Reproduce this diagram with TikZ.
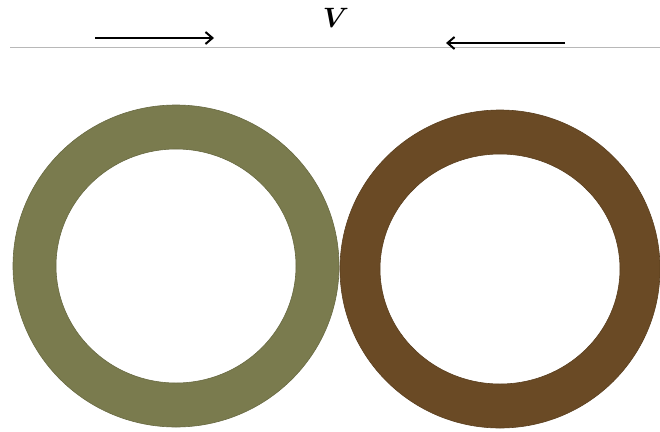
\documentclass[tikz,border=0pt]{standalone}
\usepackage{amsmath,amssymb}
\usepackage{tikz}
\usetikzlibrary{arrows.meta,positioning,calc}
\usepackage{xcolor}
\definecolor{RingOlive}{HTML}{7A7B4E}
\definecolor{RingBrown}{HTML}{6A4A25}
\definecolor{FloorGray}{HTML}{B8B8B8}

\begin{document}
\begin{tikzpicture}[x=1pt, y=-1pt,
    ring/.style={even odd rule, draw=#1!85!black, line width=0.6pt, fill=#1},
    vel/.style={-{Straight Barb[length=7pt, width=12pt]}, line width=2pt, draw=black},
    surface/.style={draw=FloorGray, line width=1pt},
    lbl/.style={inner sep=0pt}
  ]
    \useasboundingbox (0,0) rectangle (660,431);

    \coordinate (wallL) at (10, 47);
    \coordinate (wallR) at (660, 47);
    \draw[surface] (wallL) -- (wallR);

    \node[lbl] (vlabel) at (336, 18) {\scalebox{2.8}{$\boldsymbol{V}$}};

    \coordinate (leftStart) at (95, 38);
    \coordinate (leftEnd) at (214, 38);
    \coordinate (rightStart) at (565, 43);
    \coordinate (rightEnd) at (446, 43);
    \draw[vel] (leftStart) -- (leftEnd);
    \draw[vel] (rightStart) -- (rightEnd);

    \coordinate (ringA) at (176, 266);
    \coordinate (ringB) at (500, 269);
    \fill[ring=RingOlive] (ringA) circle[x radius=163, y radius=161] (ringA) circle[x radius=120, y radius=117];
    \fill[ring=RingBrown] (ringB) circle[x radius=160, y radius=159] (ringB) circle[x radius=120, y radius=115];
  \end{tikzpicture}
\end{document}
